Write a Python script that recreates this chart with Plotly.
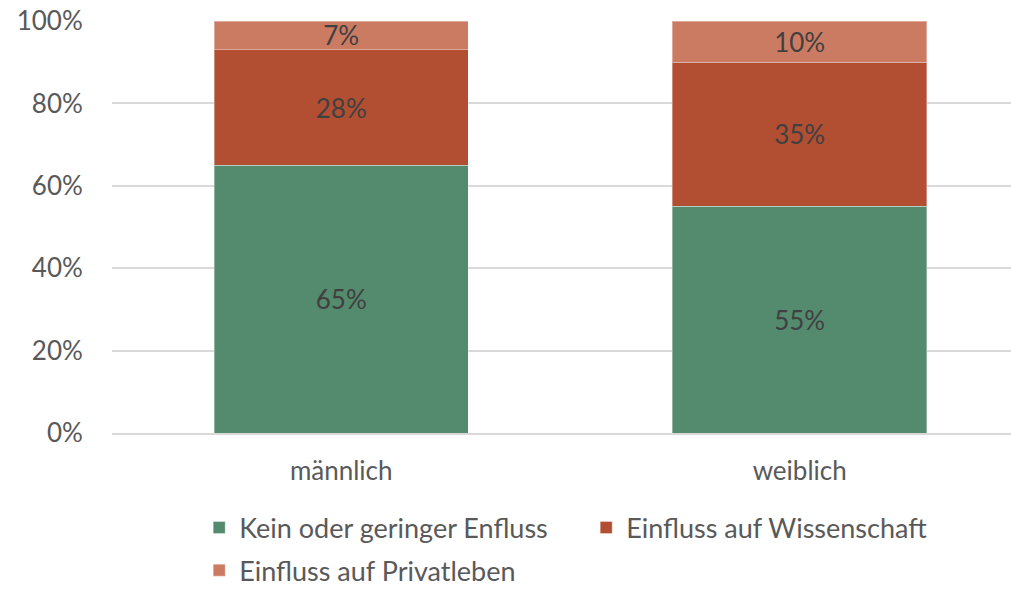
import plotly.graph_objects as go

categories = ["männlich", "weiblich"]
series_names = ["Kein oder geringer Enfluss", "Einfluss auf Wissenschaft", "Einfluss auf Privatleben"]
kein = [65, 55]
wissenschaft = [28, 35]
privat = [7, 10]
colors = ["#548A6E", "#B24E32", "#CC7B63"]
legend_ids = ["legend", "legend", "legend2"]
y_ticks = [0, 20, 40, 60, 80, 100]
y_tick_labels = ["0%", "20%", "40%", "60%", "80%", "100%"]

FONT = "Lato, 'Open Sans', sans-serif"
FS = 26
fig = go.Figure()
for name, vals, col, lg in zip(series_names, [kein, wissenschaft, privat], colors, legend_ids):
    fig.add_trace(go.Bar(
        x=categories, y=vals, name=name, legend=lg,
        marker=dict(color=col, line=dict(color="rgba(255,255,255,0.35)", width=1)),
        text=[f"{v}%" for v in vals], textposition="inside", insidetextanchor="middle",
        constraintext="none",
        textfont=dict(family=FONT, size=FS, color="#404040"),
        width=0.555,
    ))

leg_common = dict(orientation="h", xanchor="left", yanchor="middle",
                  font=dict(size=27, color="#595959"), entrywidth=342,
                  traceorder="normal", itemwidth=30, bgcolor="rgba(0,0,0,0)")
fig.update_layout(
    barmode="stack",
    width=1011, height=590,
    margin=dict(l=112, r=0, t=21, b=157, autoexpand=False),
    paper_bgcolor="white", plot_bgcolor="white",
    font=dict(family=FONT, size=FS, color="#595959"),
    showlegend=True,
    legend=dict(x=0.097, y=-0.2306, **leg_common),
    legend2=dict(x=0.097, y=-0.334, **leg_common),
    uniformtext=dict(mode=None),
    xaxis=dict(range=[-0.5, 1.461], showgrid=False, showline=True, linecolor="#d9d9d9", linewidth=1.5,
               ticks="outside", ticklen=14, tickcolor="rgba(0,0,0,0)", automargin=False,
               tickfont=dict(size=FS, color="#595959")),
    yaxis=dict(range=[0, 100], tickvals=y_ticks, ticktext=y_tick_labels,
               showgrid=True, gridcolor="#d9d9d9", gridwidth=1.5, zeroline=False,
               ticks="outside", ticklen=23, tickcolor="rgba(0,0,0,0)", automargin=False,
               tickfont=dict(size=FS, color="#595959")),
)
fig.write_html("out.html", config={"displayModeBar": False},
               post_script="document.body.style.margin='0';document.body.style.overflow='hidden';")
